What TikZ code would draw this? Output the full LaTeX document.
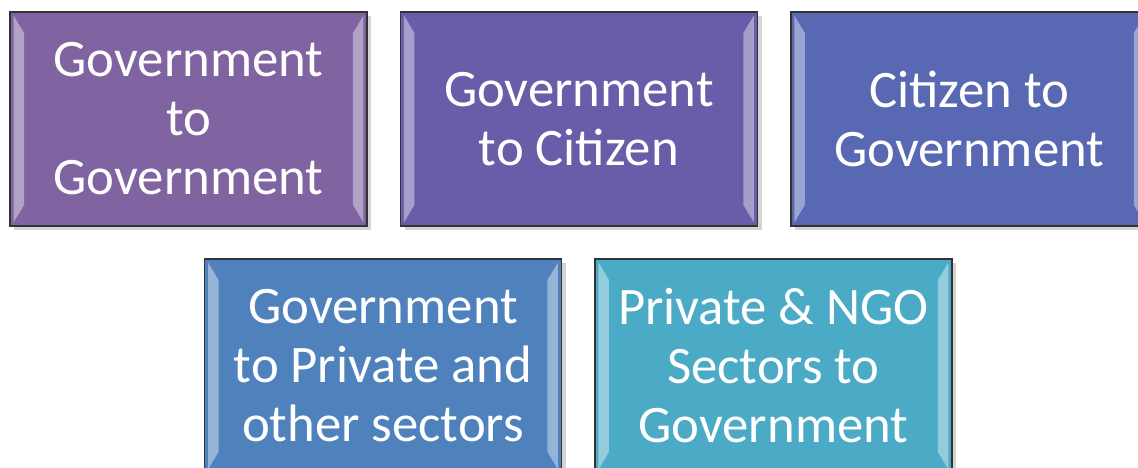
\documentclass[tikz,border=0pt]{standalone}
\usepackage{fontspec}
\setmainfont{Carlito}
\usetikzlibrary{shapes,positioning,shadows}

\definecolor{gtog}{HTML}{8064A2}
\definecolor{gtoc}{HTML}{6A5CA8}
\definecolor{ctog}{HTML}{5868B2}
\definecolor{gtop}{HTML}{4F82BD}
\definecolor{ptog}{HTML}{4BABC6}

\tikzset{
  ebox/.style={draw=black!80, line width=0.8pt, rectangle, align=center,
    minimum width=7.14cm, minimum height=4.28cm, inner sep=0pt,
    text=white, font=\fontsize{30}{33.6}\selectfont,
    drop shadow={shadow xshift=2.5pt, shadow yshift=-2.5pt, opacity=0.35},
    path picture={
      % light side bevels
      \fill[white, opacity=0.4]
        ([xshift=2pt, yshift=-2pt]path picture bounding box.north west)
        -- ([xshift=8pt, yshift=-12pt]path picture bounding box.north west)
        -- ([xshift=8pt, yshift=12pt]path picture bounding box.south west)
        -- ([xshift=2pt, yshift=2pt]path picture bounding box.south west) -- cycle;
      \fill[white, opacity=0.4]
        ([xshift=-2pt, yshift=-2pt]path picture bounding box.north east)
        -- ([xshift=-8pt, yshift=-12pt]path picture bounding box.north east)
        -- ([xshift=-8pt, yshift=12pt]path picture bounding box.south east)
        -- ([xshift=-2pt, yshift=2pt]path picture bounding box.south east) -- cycle;
    }}
}

\begin{document}
\begin{tikzpicture}
    \useasboundingbox (0,0) rectangle (22.76,-9.36);

    \node[ebox, fill=gtog] (g2g) at (3.77,-2.38) {Government \\ to \\ Government};
    \node[ebox, fill=gtoc, right=0.64cm of g2g] (g2c) {Government \\ to Citizen};
    \node[ebox, fill=ctog, right=0.64cm of g2c] (c2g) {Citizen to \\ Government};

    \node[ebox, fill=gtop] (g2p) at (7.66,-7.32) {Government \\ to Private and \\ other sectors};
    \node[ebox, fill=ptog, right=0.64cm of g2p] (p2g) {Private \& NGO \\ Sectors to \\ Government};
\end{tikzpicture}
\end{document}
